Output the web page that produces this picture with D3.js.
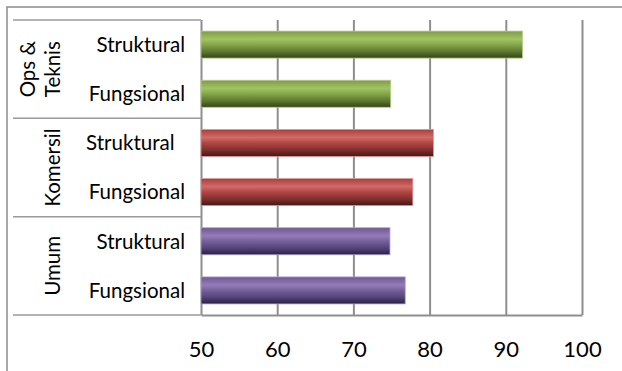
<!DOCTYPE html>
<html>
<head>
<meta charset="utf-8">
<script src="https://cdn.jsdelivr.net/npm/d3@7"></script>
<style>
  html, body { margin: 0; padding: 0; background: #fff; }
  svg { display: block; font-family: Lato, "Open Sans", sans-serif; }
</style>
</head>
<body>
<svg id="chart" width="622" height="371"></svg>
<script>
// Department groups (top to bottom) and the two assessment types in each
const groupLabels = [["Ops &", "Teknis"], ["Komersil"], ["Umum"]];
const subLabels = ["Struktural", "Fungsional"];
// Scores per group, same order as groupLabels
const scoreStruktural = [92.2, 80.5, 74.8];
const scoreFungsional = [74.9, 77.8, 76.8];
const xTicks = [50, 60, 70, 80, 90, 100];

// Flatten into one row per bar
const rows = [];
groupLabels.forEach((g, gi) => {
  rows.push({ key: gi + "-s", group: gi, label: gi === 1 ? subLabels[0] + "  " : subLabels[0], value: scoreStruktural[gi] });
  rows.push({ key: gi + "-f", group: gi, label: subLabels[1], value: scoreFungsional[gi] });
});

const svg = d3.select("#chart");
const plot = { left: 201, right: 582, top: 20, bottom: 315 };

const x = d3.scaleLinear().domain([50, 100]).range([plot.left, plot.right]);
const y = d3.scaleBand()
  .domain(rows.map(d => d.key))
  .range([plot.top, plot.bottom])
  .paddingInner(0.45)
  .paddingOuter(0.225);

// Bar shading: light band near the top fading to a dark lower edge
const palettes = [
  { id: "gGreen", stops: ["#7e9d42", "#a2c266", "#86a64a", "#5f7a30", "#34421b"] },
  { id: "gRed", stops: ["#a93f3d", "#d26a68", "#b04644", "#82302e", "#451716"] },
  { id: "gPurple", stops: ["#6e5793", "#957cb9", "#75609b", "#55447a", "#2a2140"] }
];
const defs = svg.append("defs");
palettes.forEach(p => {
  const lg = defs.append("linearGradient").attr("id", p.id)
    .attr("x1", 0).attr("y1", 0).attr("x2", 0).attr("y2", 1);
  const offs = [0, 0.3, 0.5, 0.75, 1];
  p.stops.forEach((c, i) => lg.append("stop").attr("offset", offs[i]).attr("stop-color", c));
});

// Outer frame (top and left edges)
svg.append("path")
  .attr("d", "M7,371 V7 H622")
  .attr("fill", "none").attr("stroke", "#8a8a8a").attr("stroke-width", 1.5);

// Vertical gridlines
svg.append("g")
  .attr("transform", `translate(0,${plot.bottom})`)
  .call(d3.axisBottom(x).tickValues(xTicks).tickSize(plot.bottom - plot.top).tickFormat(""))
  .call(g => g.select(".domain").remove())
  .call(g => g.selectAll(".tick line")
    .attr("y2", -(plot.bottom - plot.top))
    .attr("stroke", "#8e8e8e").attr("stroke-width", 2));

// Bottom axis line and tick labels
const xAxis = svg.append("g")
  .attr("transform", `translate(0,${plot.bottom})`)
  .call(d3.axisBottom(x).tickValues(xTicks).tickSize(0).tickPadding(26));
xAxis.select(".domain").attr("stroke", "#8e8e8e").attr("stroke-width", 2);
xAxis.selectAll(".tick text")
  .attr("font-family", "Lato, sans-serif")
  .attr("font-size", 22)
  .attr("fill", "#000");

// Group separators in the label area
const bounds = [0, 2, 4, 6].map(i => plot.top + i * y.step());
svg.append("g").selectAll("line").data(bounds).join("line")
  .attr("x1", 13).attr("x2", plot.left)
  .attr("y1", d => d).attr("y2", d => d)
  .attr("stroke", "#9a9a9a").attr("stroke-width", 1.5);

// Bars
const fills = ["url(#gGreen)", "url(#gRed)", "url(#gPurple)"];
const edges = ["#b7cf8c", "#d99a99", "#b3a2cc"];
svg.append("g").selectAll("rect").data(rows).join("rect")
  .attr("x", x(50))
  .attr("y", d => y(d.key))
  .attr("width", d => x(d.value) - x(50))
  .attr("height", y.bandwidth())
  .attr("fill", d => fills[d.group])
  .attr("stroke", d => edges[d.group])
  .attr("stroke-width", 0.8);

// Sub-category labels
svg.append("g").selectAll("text").data(rows).join("text")
  .attr("x", 185)
  .attr("y", d => y(d.key) + y.bandwidth() / 2)
  .attr("dy", "0.36em")
  .attr("text-anchor", "end")
  .attr("font-size", 20.5)
  .style("white-space", "pre")
  .attr("fill", "#000")
  .text(d => d.label);

// Rotated group labels
groupLabels.forEach((lines, gi) => {
  const cy = plot.top + (gi * 2 + 1) * y.step();
  const t = svg.append("text")
    .attr("transform", `translate(60,${cy}) rotate(-90)`)
    .attr("text-anchor", "middle")
    .attr("font-size", 20.5)
    .attr("fill", "#000");
  lines.forEach((ln, i) => {
    t.append("tspan").attr("x", 0).attr("y", -(lines.length - 1 - i) * 25).text(ln);
  });
});
</script>
</body>
</html>
